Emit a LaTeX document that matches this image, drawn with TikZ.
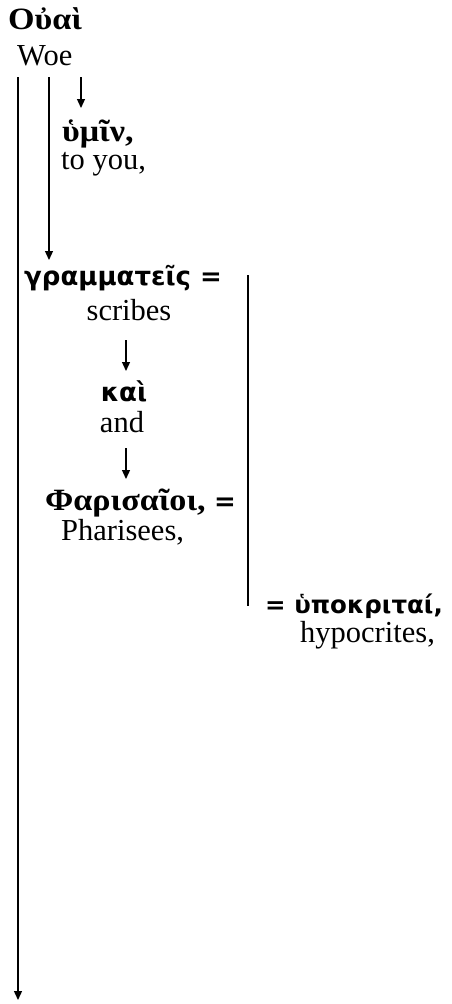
\documentclass[tikz,border=0pt]{standalone}
\usepackage{fontspec}
\setmainfont{Liberation Serif}
\newfontfamily\grsans{DejaVu Sans}
\newfontfamily\grserif[FakeStretch=1.1]{Liberation Serif}
\usetikzlibrary{arrows.meta}
\tikzset{
  en/.style={inner sep=0pt, font=\fontsize{30.5}{34}\selectfont},
  grs/.style={inner sep=0pt, font=\fontsize{31}{34}\selectfont\bfseries\grserif},
  grx/.style={inner sep=0pt, font=\fontsize{26}{30}\selectfont\bfseries\grsans},
  grxs/.style={inner sep=0pt, font=\fontsize{24.5}{30}\selectfont\bfseries\grsans},
  arr/.style={line width=1.3pt, -{Triangle[length=9pt,width=8pt]}},
  bar/.style={line width=1.3pt}
}
\begin{document}
\begin{tikzpicture}[x=1pt,y=1pt]
\useasboundingbox (0,0) rectangle (452,-1004);
\node[grs, anchor=base west] (ouai) at (8,-29) {Οὐαὶ};
\node[en, anchor=base west] (woe) at (17,-65) {Woe};
\coordinate (s1) at (18,-77);
\coordinate (e1) at (18,-1000);
\coordinate (s2) at (49,-77);
\coordinate (e2) at (49,-260);
\coordinate (s3) at (81,-77);
\coordinate (e3) at (81,-108);
\node[grs, anchor=base west] (hymin) at (62,-141) {ὑμῖν,};
\node[en, anchor=base west] (toyou) at (61,-169) {to you,};
\node[grx, anchor=base west] (gram) at (24,-285) {γραμματεῖς =};
\node[en, anchor=base] (scribes) at (129,-320) {scribes};
\coordinate (k1) at (126,-340);
\coordinate (k2) at (126,-371);
\node[grx, anchor=base] (kai) at (124,-401) {καὶ};
\node[en, anchor=base] (and) at (122,-432) {and};
\coordinate (p1) at (126,-448);
\coordinate (p2) at (126,-479);
\node[grs, anchor=base west] (phar) at (45,-510) {Φαρισαῖοι, {\fontsize{26}{30}\selectfont\grsans =}};
\node[en, anchor=base west] (phen) at (61,-540) {Pharisees,};
\coordinate (b1) at (248,-275);
\coordinate (b2) at (248,-606);
\node[grxs, anchor=base west] (hypo) at (265,-613) {= ὑποκριταί,};
\node[en, anchor=base west] (hypen) at (300,-642) {hypocrites,};
\draw[arr] (s1) -- (e1);
\draw[arr] (s2) -- (e2);
\draw[arr] (s3) -- (e3);
\draw[arr] (k1) -- (k2);
\draw[arr] (p1) -- (p2);
\draw[bar] (b1) -- (b2);
\end{tikzpicture}
\end{document}
